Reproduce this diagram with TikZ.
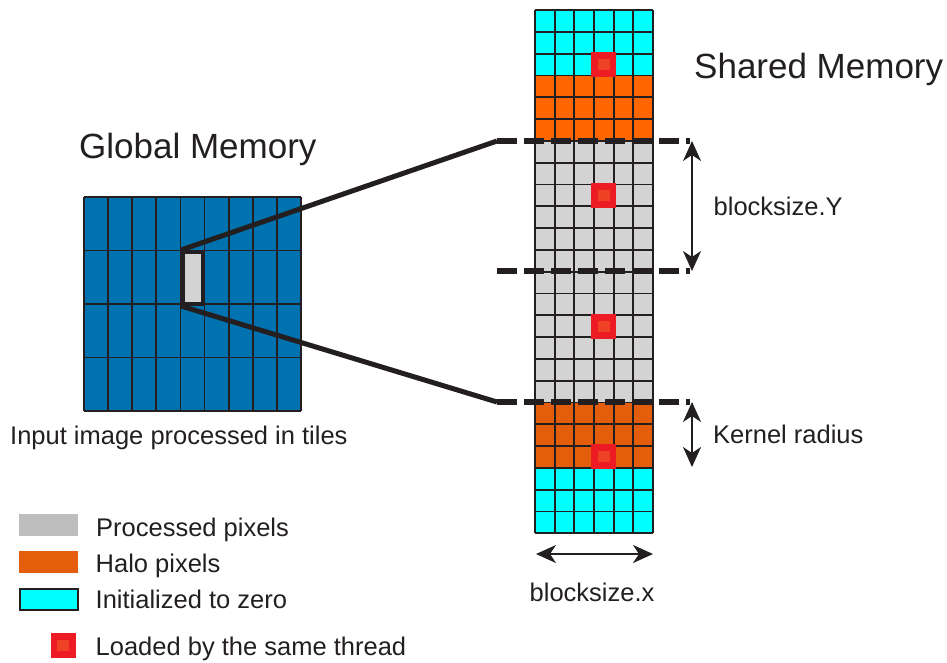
\documentclass[tikz,border=0pt]{standalone}
\usepackage{fontspec}
\setmainfont{Liberation Sans}
\usepackage{xcolor}
\usetikzlibrary{arrows.meta,positioning,calc}
\definecolor{ink}{HTML}{231F20}
\definecolor{gmblue}{HTML}{0072B0}
\definecolor{zerocyan}{HTML}{00FFFF}
\definecolor{halotop}{HTML}{FF6600}
\definecolor{halobot}{HTML}{E35D0A}
\definecolor{procgray}{HTML}{D3D3D3}
\definecolor{leggray}{HTML}{BEBEBE}
\definecolor{redout}{HTML}{ED1C24}
\definecolor{redin}{HTML}{EF4123}
\begin{document}
\begin{tikzpicture}[x=1pt,y=-1pt,
  txt/.style={font=\fontsize{25.5}{30}\selectfont,anchor=base west,inner sep=0pt,text=ink},
  title/.style={font=\fontsize{35}{42}\selectfont,anchor=base west,inner sep=0pt,text=ink},
  cellline/.style={draw=ink,line width=1.8pt},
  swatch/.style={minimum width=59pt,minimum height=22pt,inner sep=0pt,anchor=north west},
  redpix/.style={fill=redout,minimum size=25pt,inner sep=0pt},
  redcore/.style={fill=redin,minimum width=12pt,minimum height=11pt,inner sep=0pt},
  tile/.style={fill=procgray,draw=ink,line width=4pt,minimum width=20pt,minimum height=52pt,inner sep=0pt},
  cut/.style={draw=ink,line width=6pt,dash pattern=on 20pt off 7pt},
  zoomline/.style={draw=ink,line width=5pt},
  dimarrow/.style={draw=ink,line width=2pt,{Stealth[length=20pt,width=18pt,inset=6pt]}-{Stealth[length=20pt,width=18pt,inset=6pt]}}]
\useasboundingbox (0,0) rectangle (947,662);
% global memory
\fill[gmblue] (84,197) rectangle (301,411);
\foreach \i in {0,...,9} \draw[cellline] (84+\i*24.111,197) -- ++(0,214);
\foreach \j in {0,...,4} \draw[cellline] (84,197+\j*53.5) -- ++(217,0);
\node[tile] (tile) at (193,278) {};
% shared memory column
\fill[zerocyan] (535,10) rectangle (653,75.4);
\fill[halotop] (535,75.4) rectangle (653,140.8);
\fill[procgray] (535,140.8) rectangle (653,402.4);
\fill[halobot] (535,402.4) rectangle (653,467.8);
\fill[zerocyan] (535,467.8) rectangle (653,533.2);
\foreach \i in {0,...,6} \draw[cellline] (535+\i*19.667,10) -- ++(0,523.2);
\foreach \j in {0,...,24} \draw[cellline] (535,10+\j*21.8) -- ++(118,0);
\foreach \r/\n in {2/a,8/b,14/c,20/d} {
  \node[redpix] (thread\n) at (603.8,{10+21.8*(\r+0.5)}) {};
  \node[redcore] at (thread\n) {};
}
% cuts and dimensions
\coordinate (d1l) at (497,141);
\coordinate (d1r) at (690,141);
\coordinate (d2l) at (497,271);
\coordinate (d2r) at (690,271);
\coordinate (d3l) at (497,402);
\coordinate (d3r) at (690,402);
\coordinate (ytop) at (692,141);
\coordinate (ybot) at (692,271);
\coordinate (ktop) at (692,402);
\coordinate (kbot) at (692,467);
\coordinate (xl) at (536,554);
\coordinate (xr) at (653,554);
\begin{scope}
\draw[cut] (d1l) -- (d1r);
\draw[cut] (d2l) -- (d2r);
\draw[cut] (d3l) -- (d3r);
\draw[zoomline] (tile.north west) -- (d1l);
\draw[zoomline] (tile.south west) -- (d3l);
\draw[dimarrow] (ytop) -- (ybot);
\draw[dimarrow] (ktop) -- (kbot);
\draw[dimarrow] (xl) -- (xr);
\end{scope}
% labels
\node[title] (shared) at (694,78) {Shared Memory};
\node[title] (global) at (79,158) {Global Memory};
\node[txt] (input) at (10,444) {Input image processed in tiles};
\node[txt] (bsy) at (713.5,215) {blocksize.Y};
\node[txt] (kr) at (713,443) {Kernel radius};
\node[txt] (bsx) at (529.5,601) {blocksize.x};
% legend
\node[swatch,fill=leggray] (legproc) at (19,514) {};
\node[swatch,fill=halobot] (leghalo) at (19,550.5) {};
\node[swatch,fill=zerocyan,draw=ink,line width=2pt,minimum width=58pt,minimum height=21pt] (legzero) at (19,588) {};
\node[redpix] (legthread) at (63,645) {};
\node[redcore] at (legthread) {};
\node[txt] (tproc) at (96,536) {Processed pixels};
\node[txt] (thalo) at (95.5,572) {Halo pixels};
\node[txt] (tzero) at (95.5,608) {Initialized to zero};
\node[txt] (tthread) at (95.5,655) {Loaded by the same thread};
\end{tikzpicture}
\end{document}
